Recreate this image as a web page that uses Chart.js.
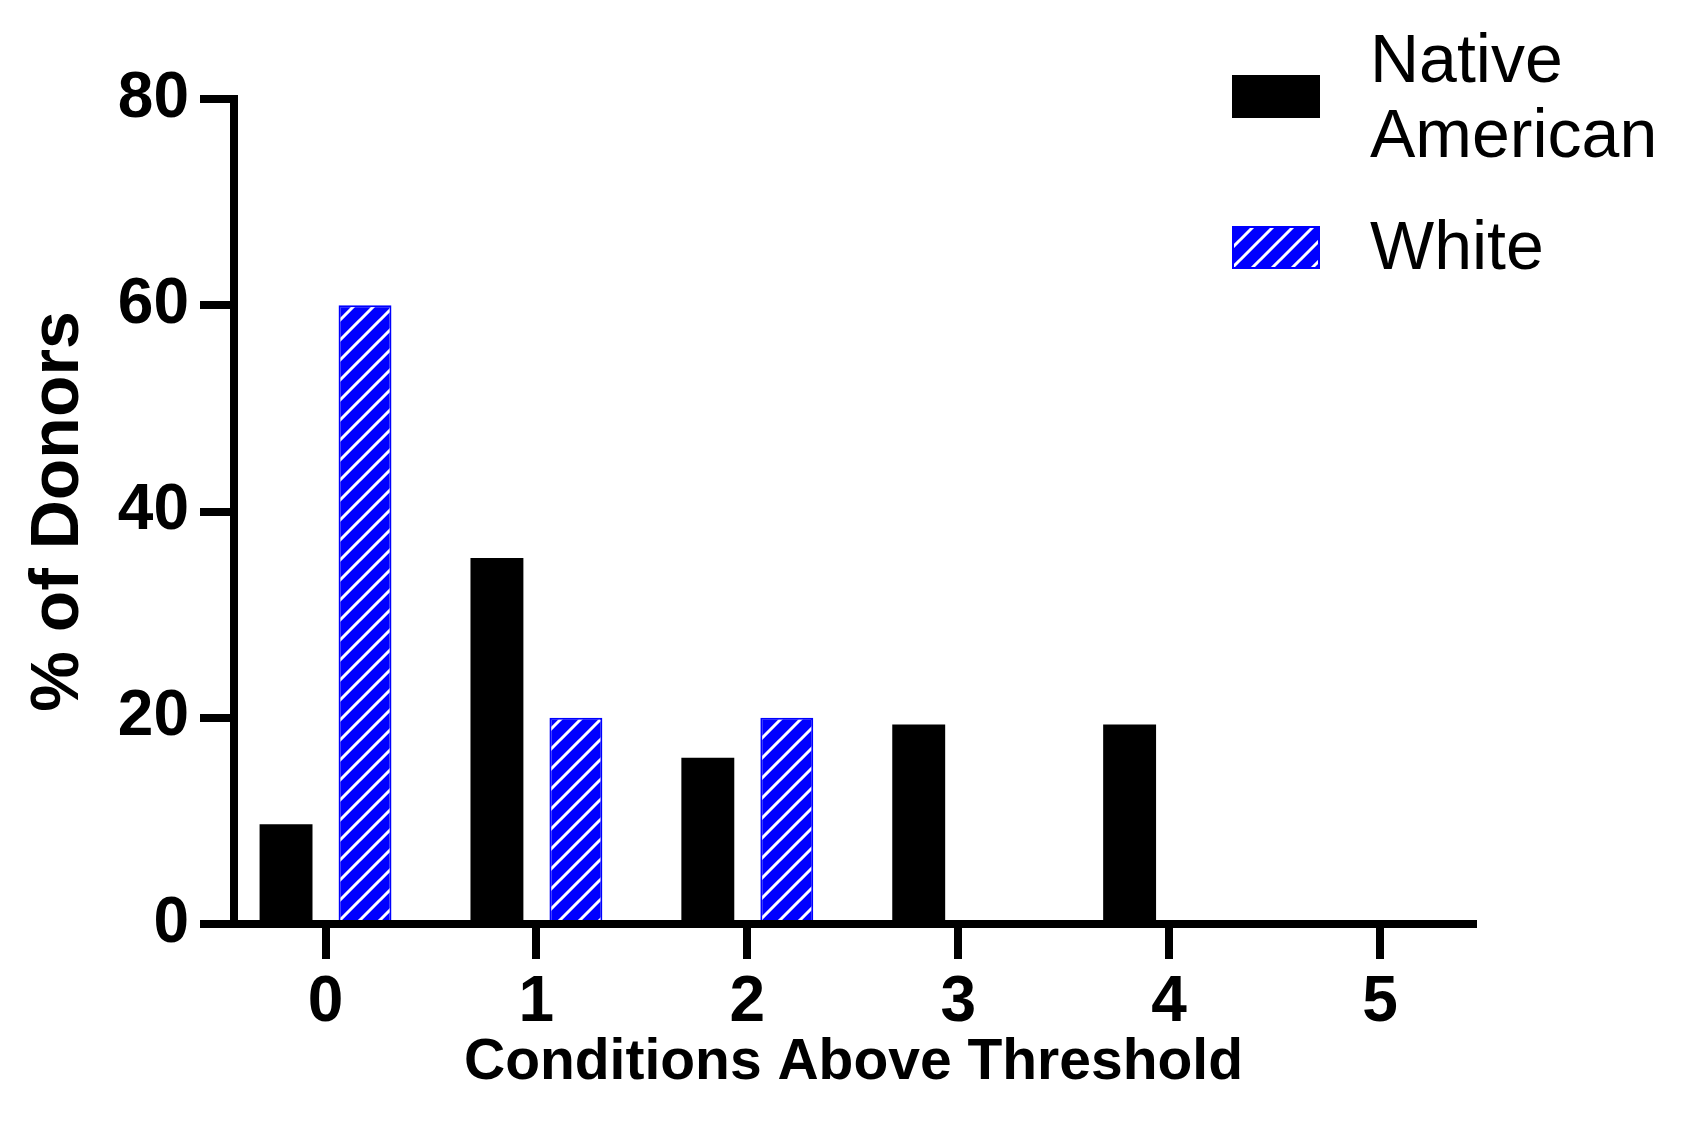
<!DOCTYPE html>
<html>
<head>
<meta charset="utf-8">
<script src="https://cdn.jsdelivr.net/npm/chart.js@4"></script>
<style>html,body{margin:0;padding:0;background:#fff;}canvas{display:block;}</style>
</head>
<body>
<canvas id="c" width="1684" height="1131"></canvas>
<script>
// ---- data ----
const categories = [0, 1, 2, 3, 4, 5];
const nativeAmerican = [9.68, 35.48, 16.13, 19.35, 19.35, 0];
const white = [60, 20, 20, 0, 0, 0];
const seriesNames = ['Native American', 'White'];
const legendLines = [['Native', 'American'], ['White']];
const yTicks = [0, 20, 40, 60, 80];
const xTitle = 'Conditions Above Threshold';
const yTitle = '% of Donors';

const FONT = "'Liberation Sans', Arial, Helvetica, sans-serif";
const canvas = document.getElementById('c');
const mainCtx = canvas.getContext('2d');

function makeHatch(ctx) {
  const s = 20;
  const c = document.createElement('canvas');
  c.width = s; c.height = s;
  const g = c.getContext('2d');
  g.fillStyle = '#0000FF';
  g.fillRect(0, 0, s, s);
  g.strokeStyle = '#ffffff';
  g.lineWidth = 3;
  g.beginPath();
  g.moveTo(-s / 2, s / 2); g.lineTo(s / 2, -s / 2);
  g.moveTo(0, s); g.lineTo(s, 0);
  g.moveTo(s / 2, s * 1.5); g.lineTo(s * 1.5, s / 2);
  g.stroke();
  return ctx.createPattern(c, 'repeat');
}
const hatch = makeHatch(mainCtx);

const sideLegend = {
  id: 'sideLegend',
  afterDraw(chart) {
    const ctx = chart.ctx;
    ctx.save();
    const boxX = 1232, boxW = 88, boxH = 43, textX = 1370;
    const boxTops = [75, 226];
    const baselines = [[82, 157], [269]];
    chart.data.datasets.forEach((ds, i) => {
      ctx.fillStyle = ds.backgroundColor;
      ctx.fillRect(boxX, boxTops[i], boxW, boxH);
      if (ds.borderWidth) {
        ctx.strokeStyle = ds.borderColor;
        ctx.lineWidth = ds.borderWidth;
        ctx.strokeRect(boxX + ds.borderWidth / 2, boxTops[i] + ds.borderWidth / 2, boxW - ds.borderWidth, boxH - ds.borderWidth);
      }
      ctx.fillStyle = '#000';
      ctx.font = '68px ' + FONT;
      ctx.textAlign = 'left';
      ctx.textBaseline = 'alphabetic';
      legendLines[i].forEach((t, j) => ctx.fillText(t, textX, baselines[i][j]));
    });
    ctx.restore();
  }
};

new Chart(mainCtx, {
  type: 'bar',
  data: {
    datasets: [
      {
        label: seriesNames[0],
        data: categories.map((c, i) => ({ x: c, y: nativeAmerican[i] })),
        backgroundColor: '#000000',
        borderWidth: 0
      },
      {
        label: seriesNames[1],
        data: categories.map((c, i) => ({ x: c, y: white[i] })),
        backgroundColor: hatch,
        borderColor: '#0000FF',
        borderWidth: 2
      }
    ]
  },
  options: {
    responsive: false,
    animation: false,
    events: [],
    categoryPercentage: 0.749,
    barPercentage: 0.67,
    layout: { padding: { left: 0, top: 99, right: 211, bottom: 0 } },
    plugins: { legend: { display: false }, tooltip: { enabled: false } },
    scales: {
      x: {
        type: 'linear',
        min: -0.434,
        max: 5.441,
        offset: false,
        z: 1,
        afterBuildTicks: s => { s.ticks = categories.map(v => ({ value: v })); },
        afterFit: s => { s.height = 207; },
        grid: { display: true, drawOnChartArea: false, offset: false, color: '#000', lineWidth: 8, tickLength: 35 },
        border: { display: true, color: '#000', width: 8 },
        ticks: {
          autoSkip: false, maxRotation: 0, color: '#000', padding: 6,
          font: { family: FONT, size: 64, weight: 'bold' },
          callback: v => String(v)
        },
        title: {
          display: true, text: xTitle, color: '#000',
          font: { family: FONT, size: 57, weight: 'bold' },
          padding: { top: 0, bottom: 34 }
        }
      },
      y: {
        min: 0,
        max: 80,
        z: 1,
        afterBuildTicks: s => { s.ticks = yTicks.map(v => ({ value: v })); },
        afterFit: s => { s.width = 234; },
        grid: { display: true, drawOnChartArea: false, color: '#000', lineWidth: 8, tickLength: 34 },
        border: { display: true, color: '#000', width: 8 },
        ticks: {
          color: '#000', padding: 11,
          font: { family: FONT, size: 64, weight: 'bold' }
        },
        title: {
          display: true, text: yTitle, color: '#000',
          font: { family: FONT, size: 68, weight: 'bold' },
          padding: { top: 18, bottom: 0 }
        }
      }
    }
  },
  plugins: [sideLegend]
});
</script>
</body>
</html>
